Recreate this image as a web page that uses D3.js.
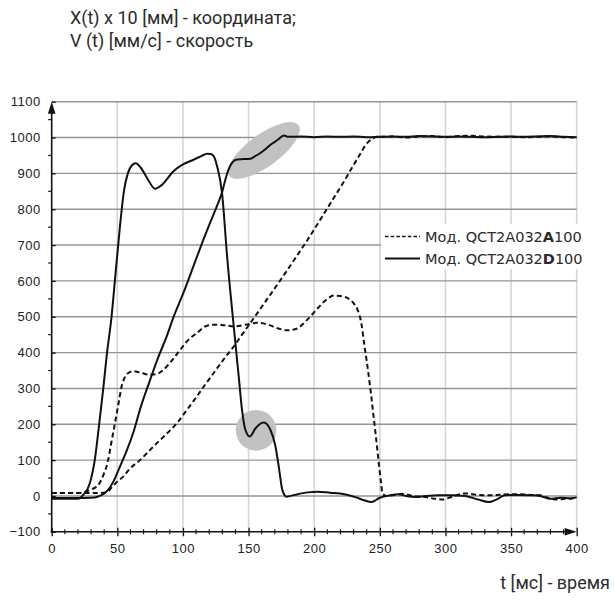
<!DOCTYPE html>
<html>
<head>
<meta charset="utf-8">
<script src="https://cdn.jsdelivr.net/npm/d3@7"></script>
<style>
  html, body { margin: 0; padding: 0; background: #fff; }
  svg { display: block; }
</style>
</head>
<body>
<div id="chart"></div>
<script>
// ---------- DATA ----------
const titleLines = ["X(t) x 10 [мм] - координата;", "V (t) [мм/с] - скорость"];
const xAxisTitle = "t [мс] - время";
const xTicks = [0, 50, 100, 150, 200, 250, 300, 350, 400];
const yTicks = [-100, 0, 100, 200, 300, 400, 500, 600, 700, 800, 900, 1000, 1100];
const legendNames = [["Мод. QCT2A032", "A", "100"], ["Мод. QCT2A032", "D", "100"]];

// Model D (solid) velocity
const velD_t = [0, 10, 20, 24, 29, 33, 36, 39.3, 42, 45.6, 48.2, 52, 55, 58, 61, 64, 68, 73, 78.8, 84, 92.8, 100, 108, 114, 118.3, 121, 123.4, 126, 129.8, 133.6, 138.7, 142.5, 145, 147.6, 150.9, 155.3, 161.6, 166.7, 170.5, 173, 175.7, 179, 185, 195, 202.5, 212, 223, 232, 238, 243.5, 250, 258, 264, 270, 277, 285, 295, 305, 315, 325, 333, 340, 345, 355, 365, 372, 380, 388, 395, 400];
const velD_v = [-8, -8, -8, 3, 35, 105, 195, 300, 395, 500, 603, 752, 850, 900, 922, 928, 915, 885, 857, 868, 906, 925, 938, 948, 955, 954, 948, 920, 845, 670, 473, 333, 240, 184, 166, 189, 205, 184, 138, 82, 17, -2, 3, 10, 12, 9, 5, -4, -12, -17, -5, 2, 5, 0, -3, 0, 2, 2, 0, -10, -17, -8, 2, 3, 2, 0, -8, -5, -7, -4];

// Model D (solid) position x10
const posD_t = [0, 10, 20, 30, 35, 41.8, 47, 52, 57, 62, 68, 75, 81, 87.7, 93, 100.4, 108, 114, 120.8, 126, 129.8, 132.5, 134.8, 137.5, 141.2, 146, 151.4, 155, 159, 163, 166.7, 170, 173, 177, 180, 190, 200, 210, 220, 230, 240, 250, 260, 270, 280, 290, 300, 310, 320, 330, 340, 350, 360, 370, 380, 390, 400];
const posD_v = [-6, -6, -6, -5, -2, 12, 40, 82, 125, 175, 250, 324, 385, 446, 501, 567, 641, 700, 763, 810, 847, 885, 911, 930, 939, 940, 941, 948, 957, 968, 980, 988, 996, 1006, 1002, 1003, 1001, 1003, 1002, 1003, 1001, 1002, 1003, 1002, 1004, 1003, 1002, 1003, 1002, 1001, 1002, 1003, 1002, 1003, 1004, 1002, 1001];

// Model A (dashed) velocity
const velA_t = [0, 10, 20, 24, 30, 35.4, 39, 43, 45.5, 48.2, 51, 53.3, 56, 58.4, 62, 67, 75, 80, 85.2, 92, 98, 104, 110.7, 118.3, 125, 132, 138.7, 148, 156.6, 165, 172, 179.5, 186, 194.8, 203, 210, 215, 220, 225.4, 230, 233, 236, 238, 241, 243.2, 245, 247, 249.5, 251, 252, 255, 262, 268, 275, 285, 292, 298, 305, 315, 325, 335, 345, 355, 365, 372, 378, 385, 392, 400];
const velA_v = [8, 8, 8, 10, 18, 30, 55, 100, 150, 203, 260, 306, 333, 343, 348, 345, 338, 340, 352, 380, 408, 435, 455, 475, 478, 476, 473, 478, 483, 478, 468, 462, 466, 492, 525, 550, 559, 558, 552, 538, 520, 480, 427, 350, 287, 230, 166, 82, 35, 7, 0, 3, 6, 0, -3, -8, -10, -2, 7, 3, 2, 4, 5, 3, 2, -5, -10, -8, -6];

// Model A (dashed) position x10
const posA_t = [0, 10, 20, 30, 35, 41.8, 46, 50, 54.5, 60, 67.3, 74, 80, 88, 95.4, 103, 110.7, 117, 123.4, 131, 138.7, 145, 151.4, 163, 174.4, 185, 195, 205, 215, 222, 228, 234, 240.7, 245, 248.3, 252, 260, 270, 280, 290, 300, 310, 320, 330, 340, 350, 360, 370, 380, 390, 400];
const posA_v = [8, 8, 8, 8, 8, 10, 25, 40, 54, 78, 100, 125, 147, 175, 203, 240, 278, 311, 343, 381, 417, 450, 483, 543, 603, 660, 715, 773, 832, 873, 911, 948, 986, 998, 1003, 1002, 1003, 1000, 1003, 1004, 1001, 1004, 1005, 1003, 1002, 1002, 1001, 1002, 1003, 1001, 1000];

// Highlight annotations (data coords)
const ellipseNote = { t: 161.6, v: 964 };
const circleNote = { t: 155.7, v: 183 };

// ---------- DRAW ----------
const W = 615, H = 602;
const svg = d3.select("#chart").append("svg").attr("width", W).attr("height", H);

const x = d3.scaleLinear().domain([0, 400]).range([51.7, 576.7]);
const y = d3.scaleLinear().domain([-100, 1100]).range([531.8, 101.7]);

// grid
const grid = svg.append("g");
grid.selectAll("line.v").data(xTicks.filter(d => d > 0)).join("line")
  .attr("x1", d => x(d)).attr("x2", d => x(d))
  .attr("y1", y(1100)).attr("y2", y(-100))
  .attr("stroke", "#d6d6d6").attr("stroke-width", 1.6);
grid.selectAll("line.h").data(yTicks.filter(d => d > -100)).join("line")
  .attr("x1", x(0)).attr("x2", x(400))
  .attr("y1", d => y(d)).attr("y2", d => y(d))
  .attr("stroke", "#959595").attr("stroke-width", 1.4);

// highlights
svg.append("ellipse")
  .attr("cx", 0).attr("cy", 0).attr("rx", 43).attr("ry", 16)
  .attr("transform", `translate(${x(ellipseNote.t)},${y(ellipseNote.v)}) rotate(-36)`)
  .attr("fill", "#c2c2c2");
svg.append("circle")
  .attr("cx", x(circleNote.t)).attr("cy", y(circleNote.v)).attr("r", 20.3)
  .attr("fill", "#c2c2c2");

// legend box (covers grid)
svg.append("rect").attr("x", 381).attr("y", 224).attr("width", 215).attr("height", 45).attr("fill", "#fff");

// lines
const line = d3.line().x(d => x(d[0])).y(d => y(d[1])).curve(d3.curveMonotoneX);
const series = [
  { t: posA_t, v: posA_v, dash: "5,3.2" },
  { t: velA_t, v: velA_v, dash: "5,3.2" },
  { t: posD_t, v: posD_v, dash: null },
  { t: velD_t, v: velD_v, dash: null }
];
series.forEach(s => {
  svg.append("path")
    .datum(d3.zip(s.t, s.v))
    .attr("d", line)
    .attr("fill", "none")
    .attr("stroke", "#111")
    .attr("stroke-width", 2)
    .attr("stroke-linejoin", "round")
    .attr("stroke-dasharray", s.dash);
});

// axes
const axisFont = "'Liberation Sans', Arial, sans-serif";
const yAxis = svg.append("g").attr("transform", `translate(${x(0)},0)`)
  .call(d3.axisLeft(y).tickValues(yTicks).tickSize(5).tickPadding(6).tickFormat(d3.format("d")));
yAxis.select(".domain").remove();
yAxis.selectAll(".tick line").attr("x2", 4).attr("stroke", "#111").attr("stroke-width", 1.3);
yAxis.selectAll(".tick text").attr("font-family", axisFont).attr("font-size", 13)
  .attr("letter-spacing", "0.5px").attr("fill", "#222");
// y minor ticks
svg.append("g").selectAll("line").data(d3.range(-50, 1100, 100)).join("line")
  .attr("x1", x(0) - 3.5).attr("x2", x(0))
  .attr("y1", d => y(d)).attr("y2", d => y(d))
  .attr("stroke", "#111").attr("stroke-width", 1.2);
svg.append("line").attr("x1", x(0)).attr("x2", x(0)).attr("y1", y(-100) + 1).attr("y2", y(1100) + 8)
  .attr("stroke", "#111").attr("stroke-width", 1.6);
svg.append("path")
  .attr("d", `M${x(0)},${y(1100)} l-3.8,12 l7.6,0 z`)
  .attr("fill", "#111");

const xAxis = svg.append("g").attr("transform", `translate(0,${y(-100)})`)
  .call(d3.axisBottom(x).tickValues(xTicks).tickSize(4.5).tickPadding(7).tickFormat(d3.format("d")));
xAxis.select(".domain").remove();
xAxis.selectAll(".tick line").attr("y1", -4).attr("stroke", "#111").attr("stroke-width", 1.3);
xAxis.selectAll(".tick text").attr("font-family", axisFont).attr("font-size", 13)
  .attr("letter-spacing", "0.5px").attr("fill", "#222");
svg.append("g").selectAll("line").data(d3.range(10, 400, 10).filter(d => d % 50 !== 0)).join("line")
  .attr("x1", d => x(d)).attr("x2", d => x(d))
  .attr("y1", y(-100) - 2.5).attr("y2", y(-100) + 2.5)
  .attr("stroke", "#111").attr("stroke-width", 1.1);
svg.append("line").attr("x1", x(0) - 1).attr("x2", x(400) - 8).attr("y1", y(-100)).attr("y2", y(-100))
  .attr("stroke", "#111").attr("stroke-width", 1.6);
svg.append("path")
  .attr("d", `M${x(400)},${y(-100)} l-12,-3.8 l0,7.6 z`)
  .attr("fill", "#111");

// titles
const titleFont = "Roboto, 'Open Sans', sans-serif";
svg.append("g").selectAll("text").data(titleLines).join("text")
  .attr("x", 70).attr("y", (d, i) => 24 + i * 23)
  .attr("font-family", titleFont).attr("font-size", 18).attr("fill", "#2b2b2b")
  .text(d => d);
svg.append("text").attr("x", 610).attr("y", 589).attr("text-anchor", "end")
  .attr("font-family", titleFont).attr("font-size", 18).attr("fill", "#2b2b2b")
  .text(xAxisTitle);

// legend
const legendFont = "'DejaVu Sans', sans-serif";
const lg = svg.append("g");
legendNames.forEach((parts, i) => {
  const yy = 236.5 + i * 22;
  lg.append("line").attr("x1", 385).attr("x2", 420).attr("y1", yy).attr("y2", yy)
    .attr("stroke", "#111").attr("stroke-width", i === 0 ? 1.4 : 2)
    .attr("stroke-dasharray", i === 0 ? "3.5,2.2" : null);
  const t = lg.append("text").attr("x", 425).attr("y", yy + 5.3)
    .attr("font-family", legendFont).attr("font-size", 14.5).attr("fill", "#2a2a2a");
  t.append("tspan").text(parts[0]);
  t.append("tspan").attr("font-weight", "bold").text(parts[1]);
  t.append("tspan").text(parts[2]);
});
</script>
</body>
</html>
